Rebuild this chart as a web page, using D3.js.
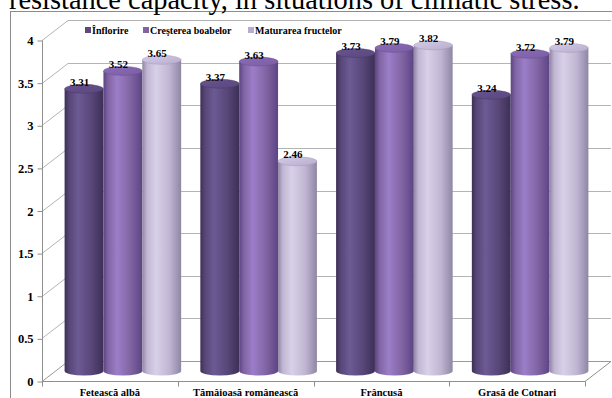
<!DOCTYPE html>
<html>
<head>
<meta charset="utf-8">
<script src="https://cdn.jsdelivr.net/npm/d3@7/dist/d3.min.js"></script>
<style>
  html, body { margin: 0; padding: 0; background: #fff; }
  svg { display: block; }
  svg text { font-family: "Liberation Serif", "Times New Roman", serif !important; }
</style>
</head>
<body>
<svg id="chart" width="612" height="398"></svg>
<script>
// Phenological stages (series) and grape varieties (categories)
const categories = ["Fetească albă", "Tămâioasă românească", "Frâncusă", "Grasă de Cotnari"];
const seriesNames = ["Înflorire", "Creşterea boabelor", "Maturarea fructelor"];
const inflorire = [3.31, 3.37, 3.73, 3.24];
const cresterea = [3.52, 3.63, 3.79, 3.72];
const maturarea = [3.65, 2.46, 3.82, 3.79];
const yTicks = [0, 0.5, 1, 1.5, 2, 2.5, 3, 3.5, 4];
const titleText = "resistance capacity, in situations of climatic stress.";

const seriesValues = [inflorire, cresterea, maturarea];

// Cylinder shading per series
const palette = [
  { dark: "#3d2f56", light: "#6c5a94", mid: "#574677", top: "#5f4c84", legend: "#5f497a" },
  { dark: "#5c4485", light: "#9b7ec8", mid: "#8064a2", top: "#8063aa", legend: "#8064a2" },
  { dark: "#8f86a3", light: "#d8d0e8", mid: "#c0b6d3", top: "#c2b8d6", legend: "#b9abd0" }
];

const svg = d3.select("#chart");

// Plot frame (front plane) and 3D depth offset
const pLeft = 42, pRight = 585, pTop = 40, pBottom = 381;
const depthX = 26, depthY = -20;

const y = d3.scaleLinear().domain([0, 4]).range([pBottom, pTop]);
const x = d3.scaleBand().domain(categories).range([pLeft, pRight]).paddingInner(0).paddingOuter(0);
const inner = d3.scaleBand().domain(seriesNames)
  .range([0, x.bandwidth()]).paddingInner(0).paddingOuter(0.247);

// Chart area border
svg.append("rect")
  .attr("x", 10.5).attr("y", 11.5)
  .attr("width", 640).attr("height", 420)
  .attr("fill", "#fff")
  .attr("stroke", "#8c8c8c")
  .attr("stroke-width", 1);

// Line of running text above the chart
svg.append("text")
  .attr("x", 9).attr("y", 8.5)
  .attr("font-size", 28.4)
  .attr("fill", "#000")
  .text(titleText);

const defs = svg.append("defs");
palette.forEach((p, i) => {
  const g = defs.append("linearGradient").attr("id", "body" + i)
    .attr("x1", 0).attr("x2", 1).attr("y1", 0).attr("y2", 0);
  g.append("stop").attr("offset", "0%").attr("stop-color", p.dark);
  g.append("stop").attr("offset", "12%").attr("stop-color", p.mid);
  g.append("stop").attr("offset", "35%").attr("stop-color", p.light);
  g.append("stop").attr("offset", "70%").attr("stop-color", p.mid);
  g.append("stop").attr("offset", "100%").attr("stop-color", p.dark);
  const t = defs.append("linearGradient").attr("id", "top" + i)
    .attr("x1", 0).attr("x2", 1).attr("y1", 0).attr("y2", 1);
  t.append("stop").attr("offset", "0%").attr("stop-color", d3.color(p.top).brighter(0.25));
  t.append("stop").attr("offset", "100%").attr("stop-color", d3.color(p.top).darker(0.15));
});

// Walls: side-wall diagonals and back-wall gridlines
const grid = svg.append("g").attr("fill", "none");
yTicks.forEach(v => {
  const yy = Math.round(y(v)) + 0.5;
  grid.append("path")
    .attr("d", `M${pLeft},${yy} L${pLeft + depthX},${yy + depthY} L${pRight + depthX},${yy + depthY}`)
    .attr("stroke", v === 0 ? "#9a9a9a" : "#b4b4b4")
    .attr("stroke-width", 1);
});
// Floor front and right edges
grid.append("path")
  .attr("d", `M${pLeft},${pBottom + 0.5} L${pRight},${pBottom + 0.5} L${pRight + depthX},${pBottom + 0.5 + depthY}`)
  .attr("stroke", "#8f8f8f");

// Front value axis
const yAxis = d3.axisLeft(y).tickValues(yTicks).tickFormat(d3.format("")).tickSize(5).tickPadding(4);
const ya = svg.append("g").attr("transform", `translate(${pLeft + 0.5},0.5)`).call(yAxis);
ya.attr("font-family", null);
ya.select(".domain").attr("stroke", "#8f8f8f").attr("d", `M0,${pTop}V${pBottom}`);
ya.selectAll(".tick line").attr("stroke", "#8f8f8f");
ya.selectAll(".tick text")
  .attr("font-size", 12.5).attr("font-weight", "bold").attr("fill", "#000");

// Category axis with tick marks at band boundaries
const xAxis = d3.axisBottom(x).tickSize(0).tickPadding(7);
const xa = svg.append("g").attr("transform", `translate(0,${pBottom + 0.5})`).call(xAxis);
xa.attr("font-family", null);
xa.select(".domain").remove();
xa.selectAll(".tick text")
  .attr("font-size", 10.5).attr("font-weight", "bold").attr("fill", "#000");
const bounds = categories.map(c => x(c)).concat([pRight]);
svg.append("g").selectAll("line").data(bounds).join("line")
  .attr("x1", d => Math.round(d) + 0.5).attr("x2", d => Math.round(d) + 0.5)
  .attr("y1", pBottom + 0.5).attr("y2", pBottom + 5.5)
  .attr("stroke", "#8f8f8f");

// Cylinders, placed at mid-depth
const ry = 4.5;
const midX = depthX / 2, midY = depthY / 2;
const bars = [];
categories.forEach((c, ci) => {
  seriesNames.forEach((s, si) => {
    bars.push({ c, s, si, v: seriesValues[si][ci] });
  });
});

const cyl = svg.append("g");
bars.forEach(b => {
  const x0 = x(b.c) + inner(b.s) + midX;
  const w = inner.bandwidth();
  const rx = w / 2;
  const cx = x0 + rx;
  const yt = y(b.v) + midY;
  const yb = y(0) + midY;
  const g = cyl.append("g");
  g.append("path")
    .attr("d", `M${x0},${yt} L${x0},${yb} A${rx},${ry} 0 0 0 ${x0 + w},${yb} L${x0 + w},${yt} Z`)
    .attr("fill", `url(#body${b.si})`);
  g.append("ellipse")
    .attr("cx", cx).attr("cy", yt).attr("rx", rx).attr("ry", ry)
    .attr("fill", `url(#top${b.si})`)
    .attr("stroke", palette[b.si].dark).attr("stroke-opacity", 0.55).attr("stroke-width", 0.6);
  b.cx = cx; b.yt = yt;
});

// Value labels above each cylinder
svg.append("g").selectAll("text").data(bars).join("text")
  .attr("x", d => d.cx - 4.5)
  .attr("y", d => d.yt - ry + 1.5)
  .attr("text-anchor", "middle")
  .attr("font-size", 11).attr("font-weight", "bold").attr("fill", "#000")
  .text(d => d3.format(".2f")(d.v));

// Legend
const legendX = [85, 143, 248];
const lg = svg.append("g");
seriesNames.forEach((s, i) => {
  lg.append("rect")
    .attr("x", legendX[i]).attr("y", 27)
    .attr("width", 6).attr("height", 6)
    .attr("fill", palette[i].legend);
  lg.append("text")
    .attr("x", legendX[i] + 7).attr("y", 33.5)
    .attr("font-size", 10).attr("font-weight", "bold").attr("fill", "#000")
    .text(s);
});
</script>
</body>
</html>
